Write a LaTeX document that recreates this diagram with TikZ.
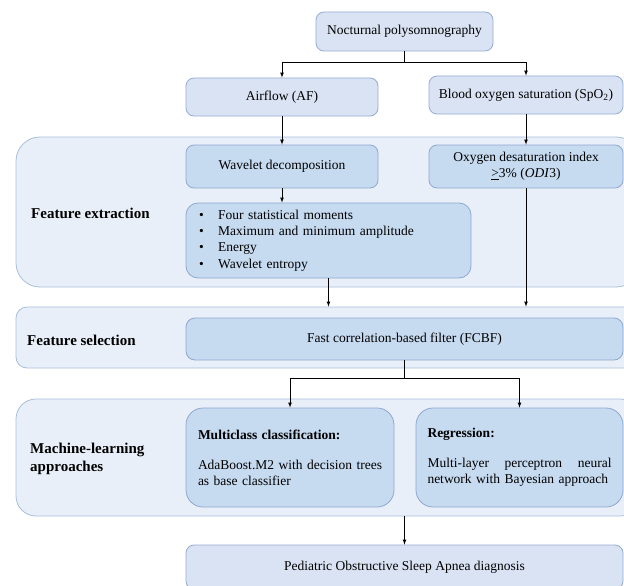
\documentclass[tikz,border=0pt]{standalone}
\usepackage{fontspec}
\setmainfont{Liberation Serif}
\usepackage{tikz}
\usetikzlibrary{positioning,calc,arrows}

\definecolor{panelfill}{RGB}{233,239,249}
\definecolor{panelline}{RGB}{168,189,220}
\definecolor{lightfill}{RGB}{218,227,243}
\definecolor{lightline}{RGB}{148,171,210}
\definecolor{midfill}{RGB}{198,218,240}
\definecolor{midline}{RGB}{143,168,207}

\tikzset{
	panel/.style={draw=panelline, fill=panelfill, line width=0.8pt, minimum width=624pt, inner sep=0pt},
	lightbox/.style={draw=lightline, fill=lightfill, line width=0.8pt, align=center, inner sep=0pt,
		rounded corners=8pt, font=\fontsize{13.5}{16.3}\selectfont},
	midbox/.style={draw=midline, fill=midfill, line width=0.8pt, align=center, inner sep=0pt,
		rounded corners=8pt, font=\fontsize{13.5}{16.3}\selectfont},
	lbl/.style={anchor=west, align=left, inner sep=0pt, font=\bfseries\fontsize{15}{18.5}\selectfont},
	conn/.style={-latex, line width=0.7pt}
}

\begin{document}
\begin{tikzpicture}[x=1pt,y=-1pt]
\useasboundingbox (0,0) rectangle (624,586);
\clip (0,0) rectangle (624,586); % panels run out on the right

%Bandeaux
\node[panel, rounded corners=24pt, minimum height=150pt] (fe) at (328,212) {};
\node[panel, rounded corners=11pt, minimum height=61pt] (fs) at (328,337.5) {};
\node[panel, rounded corners=20pt, minimum height=117pt] (ml) at (328,457.5) {};

\node[lbl] (felbl) at (31,213) {Feature extraction};
\node[lbl] (fslbl) at (27,340) {Feature selection};
\node[lbl] (mllbl) at (30,459) {Machine-learning\\approaches};

%Signaux
\node[lightbox, minimum width=177pt, minimum height=39pt] (noc) at (404.5,31.5) {Nocturnal polysomnography};
\node[lightbox, minimum width=192pt, minimum height=38pt] (air) at (282,97) {Airflow (AF)};
\node[lightbox, minimum width=194pt, minimum height=38pt] (blood) at (526,95) {Blood oxygen saturation (SpO\textsubscript{2})};

%Extraction
\node[midbox, minimum width=192pt, minimum height=43pt] (wav) at (282,166.5) {Wavelet decomposition};
\node[midbox, minimum width=194pt, minimum height=43pt] (odi) at (526,166.5) {Oxygen desaturation index\\ \underline{>}3\% (\textit{ODI}3)};
\node[midbox, rounded corners=12pt, minimum height=75pt, text width=259pt, inner xsep=13pt, align=left] (bul) at (328.5,240.5) {%
	\begin{tabular}{@{}l@{\hspace{14.5pt}}l@{}}
	\textbullet & Four statistical moments\\
	\textbullet & Maximum  and minimum  amplitude\\
	\textbullet & Energy\\
	\textbullet & Wavelet entropy
	\end{tabular}};

%Selection
\node[midbox, rounded corners=9pt, minimum width=437pt, minimum height=42pt] (fcbf) at (404.5,339) {Fast correlation-based filter (FCBF)};

%Apprentissage
\node[midbox, rounded corners=17pt, minimum height=99pt, text width=184pt, inner xsep=12pt, align=left] (mc) at (290,457.5) {%
	\textbf{Multiclass classification:}\\[13.7pt]
	\mbox{AdaBoost.M2 with decision trees}\\ as base classifier};
\node[midbox, rounded corners=17pt, minimum height=99pt, text width=184pt, inner xsep=11.5pt, align=left] (reg) at (519.5,457.5) {%
	\textbf{Regression:}\\[13.7pt]
	Multi-layer\hfill perceptron\hfill neural\\ network with Bayesian approach};

%Diagnostic
\node[lightbox, minimum width=437pt, minimum height=44pt] (ped) at (404.5,567) {Pediatric Obstructive Sleep Apnea diagnosis};

%Fleches
\draw[conn] (noc.south) -- ++(0,11) -| (air.north);
\draw[conn] (noc.south) -- ++(0,11) -| (blood.north);
\draw[conn] (air.south) -- (wav.north);
\draw[conn] (blood.south) -- (odi.north);
\draw[conn] (wav.south) -- (wav.south |- bul.north);
\draw[conn] (bul.south) -- (bul.south |- fs.north);
\draw[conn] (odi.south) -- (odi.south |- fs.north);
\draw[conn] (fcbf.south) -- ++(0,18) -| (mc.north);
\draw[conn] (fcbf.south) -- ++(0,18) -| (reg.north);
\draw[conn] (ped.north |- ml.south) -- (ped.north);

\end{tikzpicture}
\end{document}
